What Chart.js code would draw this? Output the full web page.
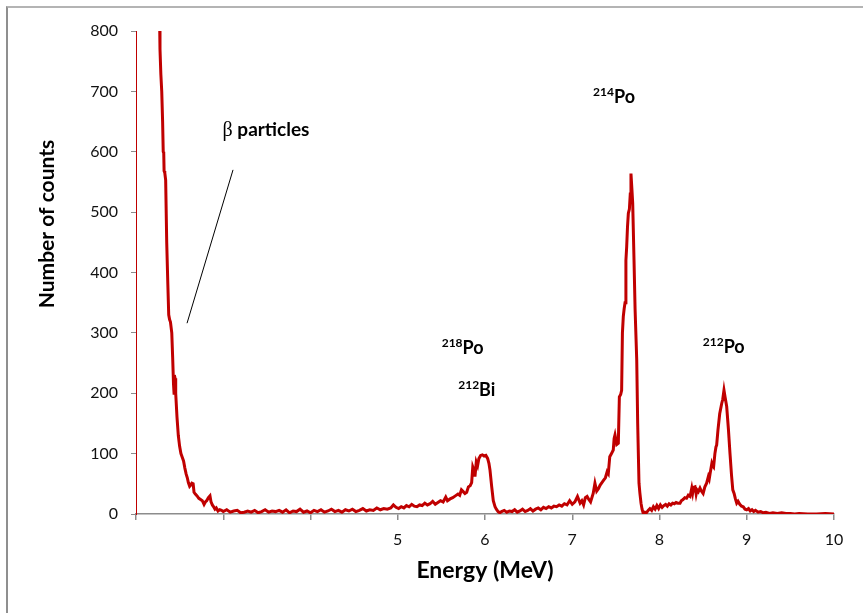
<!DOCTYPE html>
<html>
<head>
<meta charset="utf-8">
<script src="https://cdn.jsdelivr.net/npm/chart.js@4/dist/chart.umd.min.js"></script>
<style>
  html, body { margin: 0; padding: 0; background: #fff; }
  #wrap { position: relative; width: 863px; height: 613px; overflow: hidden; }
  #frame { position: absolute; left: 6px; top: 6px; right: -4px; bottom: -4px;
           border-left: 2px solid #8f8f8f; border-top: 2px solid #b4b4b4; }
  canvas { position: absolute; left: 0; top: 0; }
</style>
</head>
<body>
<div id="wrap">
  <div id="frame"></div>
  <canvas id="c" width="863" height="613"></canvas>
</div>
<script>
// Alpha/beta energy spectrum of radon progeny (energy in MeV, counts per channel)
const energy = [
  // beta continuum
  2.265, 2.275, 2.285, 2.295, 2.305, 2.312, 2.318, 2.322, 2.33, 2.34,
  2.352, 2.365, 2.375, 2.385, 2.395, 2.41, 2.42, 2.43, 2.436, 2.44,
  2.447, 2.455, 2.47, 2.485, 2.50, 2.515, 2.53, 2.545, 2.56, 2.575,
  2.588, 2.60, 2.615, 2.627, 2.64, 2.655, 2.665, 2.68, 2.70, 2.72,
  2.74, 2.76, 2.78, 2.795, 2.81, 2.83, 2.848, 2.86, 2.875, 2.89,
  2.905, 2.92, 2.94, 2.96, 2.98,
  // background
  3.00, 3.04, 3.08, 3.12, 3.16, 3.20, 3.24, 3.28, 3.32, 3.36,
  3.40, 3.44, 3.48, 3.52, 3.56, 3.60, 3.64, 3.68, 3.72, 3.76,
  3.80, 3.84, 3.88, 3.92, 3.96, 4.00, 4.04, 4.08, 4.12, 4.16,
  4.20, 4.24, 4.28, 4.32, 4.36, 4.40, 4.44, 4.48, 4.52, 4.56,
  4.60, 4.64, 4.68, 4.72, 4.76, 4.80, 4.84, 4.88,
  // 218Po / 212Bi
  4.92, 4.95, 4.98, 5.01, 5.04, 5.07, 5.10, 5.13, 5.16, 5.19,
  5.22, 5.25, 5.28, 5.31, 5.34, 5.37, 5.40, 5.43, 5.46, 5.49,
  5.52, 5.55, 5.57, 5.60, 5.63, 5.66, 5.69, 5.71, 5.73, 5.75,
  5.77, 5.79, 5.81, 5.83, 5.847, 5.86, 5.875, 5.885, 5.90, 5.915,
  5.93, 5.95, 5.97, 5.99, 6.01, 6.03, 6.045, 6.057, 6.077, 6.095,
  6.115, 6.13, 6.15, 6.17, 6.19,
  // 214Po
  6.22, 6.25, 6.28, 6.31, 6.34, 6.37, 6.40, 6.43, 6.46, 6.49,
  6.52, 6.55, 6.58, 6.61, 6.64, 6.67, 6.70, 6.73, 6.76, 6.79,
  6.82, 6.85, 6.88, 6.91, 6.94, 6.97, 7.00, 7.03, 7.06, 7.09,
  7.11, 7.13, 7.15, 7.17, 7.19, 7.21, 7.24, 7.26, 7.28, 7.30,
  7.32, 7.34, 7.36, 7.38, 7.40, 7.413, 7.43, 7.45, 7.47, 7.48,
  7.49, 7.51, 7.528, 7.54, 7.555, 7.566, 7.575, 7.585, 7.595, 7.605,
  7.615, 7.624, 7.633, 7.643, 7.655, 7.665, 7.673, 7.683, 7.693, 7.708,
  7.72, 7.739, 7.75, 7.765, 7.775, 7.788, 7.80, 7.814, 7.83, 7.85,
  // 212Po
  7.87, 7.89, 7.91, 7.93, 7.95, 7.97, 7.99, 8.01, 8.03, 8.05,
  8.07, 8.09, 8.11, 8.13, 8.15, 8.17, 8.19, 8.21, 8.235, 8.25,
  8.27, 8.29, 8.31, 8.33, 8.35, 8.37, 8.38, 8.39, 8.407, 8.42,
  8.43, 8.445, 8.464, 8.48, 8.50, 8.52, 8.54, 8.56, 8.57, 8.58,
  8.60, 8.61, 8.62, 8.635, 8.647, 8.655, 8.67, 8.69, 8.713, 8.725,
  8.739, 8.75, 8.77, 8.79, 8.808, 8.825, 8.84, 8.855, 8.87, 8.885,
  8.90, 8.92, 8.94, 8.96, 8.98, 9.00, 9.02, 9.04, 9.06, 9.08,
  9.10, 9.13, 9.16, 9.19, 9.22, 9.26, 9.30, 9.35, 9.40, 9.45,
  9.50, 9.55, 9.60, 9.70, 9.80, 9.90, 10.00
];

const counts = [
  // beta continuum
  880, 770, 728, 700, 650, 600, 598, 568, 565, 553,
  450, 380, 330, 322, 318, 300, 260, 215, 200, 230,
  225, 200, 160, 130, 112, 100, 94, 88, 76, 66,
  60, 52, 46, 48, 51, 50, 36, 33, 30, 26,
  24, 22, 16, 20, 22, 27, 30, 20, 15, 12,
  8, 10, 5, 7, 6,
  // background
  4, 7, 3, 5, 6, 2, 3, 5, 3, 6,
  2, 4, 7, 3, 5, 4, 6, 3, 7, 2,
  5, 4, 8, 3, 5, 2, 6, 4, 7, 3,
  5, 8, 4, 6, 3, 7, 5, 8, 4, 6,
  9, 5, 7, 6, 10, 7, 9, 8,
  // 218Po / 212Bi
  10, 15, 11, 9, 12, 10, 14, 12, 16, 13,
  12, 15, 14, 18, 15, 17, 21, 16, 19, 22,
  20, 28, 22, 25, 27, 30, 33, 31, 40, 37,
  34, 36, 45, 47, 52, 78, 72, 62, 86, 80,
  92, 97, 98, 96, 97, 92, 84, 73, 45, 22,
  12, 8, 4, 2, 4,
  // 214Po
  6, 3, 5, 4, 7, 3, 5, 8, 4, 6,
  9, 5, 8, 10, 7, 11, 9, 12, 10, 13,
  12, 15, 13, 17, 15, 22, 16, 20, 29, 18,
  22, 15, 27, 29, 24, 20, 34, 51, 38, 42,
  48, 52, 56, 60, 70, 67, 95, 100, 106, 125,
  131, 115, 117, 194, 198, 205, 300, 327, 340, 350,
  420, 443, 475, 498, 505, 530, 564, 540, 514, 420,
  340, 255, 150, 51, 35, 18, 8, 1, 3, 2,
  // 212Po
  6, 9, 6, 12, 8, 14, 9, 15, 11, 14,
  16, 13, 17, 15, 18, 17, 19, 18, 18, 22,
  24, 27, 26, 31, 29, 43, 35, 44, 45, 33,
  40, 37, 43, 38, 34, 45, 51, 62, 58, 67,
  84, 80, 78, 100, 111, 114, 139, 166, 183, 190,
  205, 195, 178, 140, 100, 65, 40, 34, 25, 18,
  21, 16, 13, 12, 8, 7, 9, 5, 7, 4,
  6, 3, 4, 2, 3, 1, 2, 1, 2, 1,
  1, 0, 1, 0, 0, 1, 0
];

const xTicks = [2, 3, 4, 5, 6, 7, 8, 9, 10];
const xTickLabels = ['', '', '', '5', '6', '7', '8', '9', '10'];
const yTicks = [0, 100, 200, 300, 400, 500, 600, 700, 800];

// Peak labels: isotope mass number (superscript), symbol, anchor (MeV, counts)
const peakLabels = [
  { sup: '214', sym: 'Po', e: 7.479, c: 681 },
  { sup: '218', sym: 'Po', e: 5.744, c: 265 },
  { sup: '212', sym: 'Bi', e: 5.906, c: 195 },
  { sup: '212', sym: 'Po', e: 8.736, c: 267 }
];
const betaLabel = { greek: 'β', text: ' particles', e: 3.49, c: 626 };
const betaPointer = { from: [3.112, 570], to: [2.585, 316] };

const points = energy.map((e, i) => ({ x: e, y: counts[i] }));

const FONT = 'Lato, "Open Sans", sans-serif';

const annotations = {
  id: 'annotations',
  afterDraw(chart) {
    const { ctx, scales: { x, y } } = chart;
    ctx.save();
    ctx.fillStyle = '#000';
    ctx.textBaseline = 'alphabetic';

    peakLabels.forEach(p => {
      const supFont = 'bold 12px ' + FONT;
      const symFont = 'bold 18px ' + FONT;
      ctx.font = supFont;
      const ws = ctx.measureText(p.sup).width;
      ctx.font = symFont;
      const wm = ctx.measureText(p.sym).width;
      const left = x.getPixelForValue(p.e) - (ws + wm) / 2;
      const base = y.getPixelForValue(p.c);
      ctx.font = supFont;
      ctx.fillText(p.sup, left, base - 7);
      ctx.font = symFont;
      ctx.fillText(p.sym, left + ws, base);
    });

    // beta label and pointer line
    const gFont = '20px "Liberation Serif", "DejaVu Serif", serif';
    const tFont = 'bold 19px ' + FONT;
    ctx.font = gFont;
    const wg = ctx.measureText(betaLabel.greek).width;
    ctx.font = tFont;
    const wt = ctx.measureText(betaLabel.text).width;
    const bl = x.getPixelForValue(betaLabel.e) - (wg + wt) / 2;
    const bb = y.getPixelForValue(betaLabel.c);
    ctx.font = gFont;
    ctx.fillText(betaLabel.greek, bl, bb);
    ctx.font = tFont;
    ctx.fillText(betaLabel.text, bl + wg, bb);

    ctx.strokeStyle = '#000';
    ctx.lineWidth = 1;
    ctx.beginPath();
    ctx.moveTo(x.getPixelForValue(betaPointer.from[0]), y.getPixelForValue(betaPointer.from[1]));
    ctx.lineTo(x.getPixelForValue(betaPointer.to[0]), y.getPixelForValue(betaPointer.to[1]));
    ctx.stroke();

    // axis titles
    const area = chart.chartArea;
    ctx.font = 'bold 23px ' + FONT;
    ctx.textAlign = 'center';
    ctx.fillText('Energy (MeV)', (area.left + area.right) / 2, 578);
    ctx.font = 'bold 21px ' + FONT;
    ctx.translate(54, 224);
    ctx.rotate(-Math.PI / 2);
    ctx.fillText('Number of counts', 0, 0);
    ctx.restore();
  }
};

new Chart(document.getElementById('c'), {
  type: 'line',
  data: {
    datasets: [{
      data: points,
      borderColor: '#c00000',
      borderWidth: 3,
      pointRadius: 0,
      tension: 0,
      fill: false
    }]
  },
  options: {
    responsive: false,
    animation: false,
    layout: { padding: { top: 31, right: 29, left: 0, bottom: 0 } },
    plugins: { legend: { display: false }, tooltip: { enabled: false } },
    scales: {
      x: {
        type: 'linear',
        min: 2, max: 10,
        afterBuildTicks(scale) { scale.ticks = xTicks.map(v => ({ value: v })); },
        afterFit(scale) { scale.height = 99; },
        ticks: {
          callback: (v) => xTickLabels[xTicks.indexOf(v)],
          font: { family: FONT, size: 16 },
          color: '#111',
          padding: 10,
          maxRotation: 0,
          autoSkip: false
        },
        grid: { drawOnChartArea: false, drawTicks: true, tickLength: 6, color: '#8c8c8c', lineWidth: 1.5 },
        border: { color: '#8c8c8c', width: 1.5 }
      },
      y: {
        min: 0, max: 800,
        afterBuildTicks(scale) { scale.ticks = yTicks.map(v => ({ value: v })); },
        afterFit(scale) { scale.width = 136; },
        ticks: {
          font: { family: FONT, size: 16 },
          color: '#111',
          padding: 13
        },
        grid: { drawOnChartArea: false, drawTicks: true, tickLength: 5, color: '#8c8c8c', lineWidth: 1 },
        border: { color: '#c00000', width: 1 }
      }
    }
  },
  plugins: [annotations]
});
</script>
</body>
</html>
